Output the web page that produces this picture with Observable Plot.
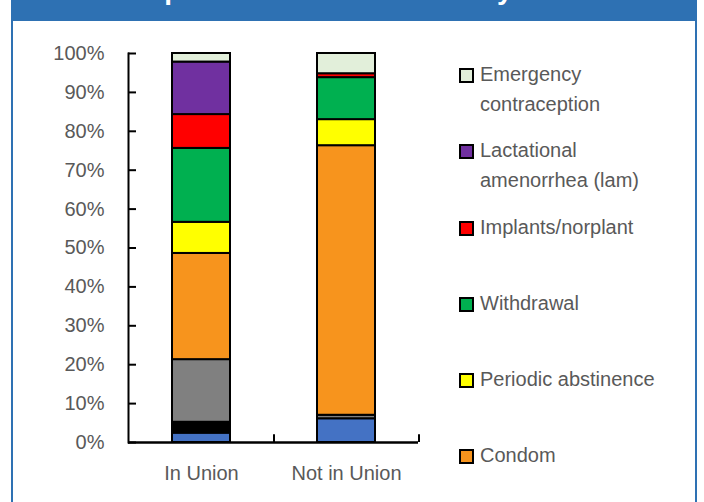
<!DOCTYPE html>
<html>
<head>
<meta charset="utf-8">
<script src="https://cdn.jsdelivr.net/npm/d3@7"></script>
<script src="https://cdn.jsdelivr.net/npm/@observablehq/plot@0.6"></script>
<style>
  html, body { margin: 0; padding: 0; background: #ffffff; }
  body { width: 704px; height: 502px; position: relative; overflow: hidden;
         font-family: "Liberation Sans", Arial, sans-serif; }
  #card { position: absolute; left: 11px; top: 0; width: 686px; height: 720px;
          box-sizing: border-box; border: 2px solid #2e71b3; border-top: none; background: #fff; }
  #titlebar { position: absolute; left: 11px; top: 0; width: 686px; height: 21px;
              background: #2e71b3; overflow: hidden; }
  #titlebar h1 { position: absolute; left: 91px; top: -24px; margin: 0; white-space: nowrap;
                 font-size: 28px; line-height: 28px; font-weight: bold; color: #ffffff; }
  #chart { position: absolute; left: 0; top: 0; }
  #legend { position: absolute; left: 459px; top: 59px; }
  .entry { position: relative; height: 76.3px; }
  .swatch { position: absolute; left: 0; top: 9px; width: 15px; height: 15px;
            box-sizing: border-box; border: 2px solid #000; }
  .label { position: absolute; left: 21px; top: 0; width: 190px;
           font-size: 20px; line-height: 30px; color: #595959; }
</style>
</head>
<body>
<div id="card"></div>
<div id="titlebar"><h1>Composition of method mix by union status</h1></div>
<div id="chart"></div>
<div id="legend"></div>
<script>
// Marital-status groups along the x axis
const groups = ["In Union", "Not in Union"];

// Contraceptive methods, stacked bottom to top
const methods = [
  "Pill",
  "Injectables",
  "IUD",
  "Condom",
  "Periodic abstinence",
  "Withdrawal",
  "Implants/norplant",
  "Lactational amenorrhea (lam)",
  "Emergency contraception"
];

// Share of users (%) per method, same order as methods
const inUnion    = [2.4, 2.8, 16.1, 27.3, 8.0, 19.0, 8.7, 13.5, 2.2];
const notInUnion = [6.1, 0.0, 0.9, 69.3, 6.7, 10.8, 1.0, 0.0, 5.2];

// Fill colour per method, same order as methods
const colors = [
  "#4472c4", "#000000", "#808080", "#f7941d", "#ffff00",
  "#00b050", "#ff0000", "#7030a0", "#e2efda"
];

// Percentage ticks on the value axis
const yTicks = [0, 10, 20, 30, 40, 50, 60, 70, 80, 90, 100];

// Methods listed in the legend panel (top of the stack first)
const legendMethods = [
  "Emergency contraception",
  "Lactational amenorrhea (lam)",
  "Implants/norplant",
  "Withdrawal",
  "Periodic abstinence",
  "Condom"
];

const series = [inUnion, notInUnion];
const rows = groups.flatMap((g, gi) =>
  methods.map((m, mi) => ({group: g, method: m, value: series[gi][mi]}))
);

const font = '"Liberation Sans", Arial, sans-serif';
const W = 440, H = 502;
const mL = 128, mR = 22, mT = 53, mB = 60;
const plotW = W - mL - mR;
const step = plotW / groups.length;

const chart = Plot.plot({
  width: W,
  height: H,
  marginLeft: mL,
  marginRight: mR,
  marginTop: mT,
  marginBottom: mB,
  style: {fontFamily: font, fontSize: "20px", color: "#595959", background: "transparent", overflow: "visible"},
  x: {domain: groups, paddingInner: 0.6, paddingOuter: 0.3},
  y: {domain: [0, 100]},
  color: {domain: methods, range: colors},
  marks: [
    Plot.barY(rows, {
      x: "group", y: "value", z: "method", fill: "method", order: methods,
      stroke: "#000", strokeWidth: 2
    }),
    // inward tick marks on the value axis
    Plot.ruleY(yTicks, {stroke: "#000", strokeWidth: 2, insetRight: plotW - 8}),
    // inward tick marks between categories and at the end of the category axis
    Plot.ruleX(groups, {x: d => d, dx: step / 2, y1: 0, y2: 2, stroke: "#000", strokeWidth: 2}),
    Plot.frame({anchor: "left", stroke: "#000", strokeWidth: 2}),
    Plot.ruleY([0], {stroke: "#000", strokeWidth: 2.5}),
    Plot.axisY({ticks: yTicks, tickFormat: d => `${d}%`, tickSize: 0, tickPadding: 24, fill: "#595959", label: null}),
    Plot.axisX({tickSize: 0, tickPadding: 23, fill: "#595959", label: null})
  ]
});
document.getElementById("chart").append(chart);

// Legend swatches and labels
const legend = document.getElementById("legend");
legendMethods.forEach(m => {
  const entry = document.createElement("div");
  entry.className = "entry";
  const sw = document.createElement("div");
  sw.className = "swatch";
  sw.style.background = colors[methods.indexOf(m)];
  const lab = document.createElement("div");
  lab.className = "label";
  lab.textContent = m;
  entry.append(sw, lab);
  legend.append(entry);
});
</script>
</body>
</html>
